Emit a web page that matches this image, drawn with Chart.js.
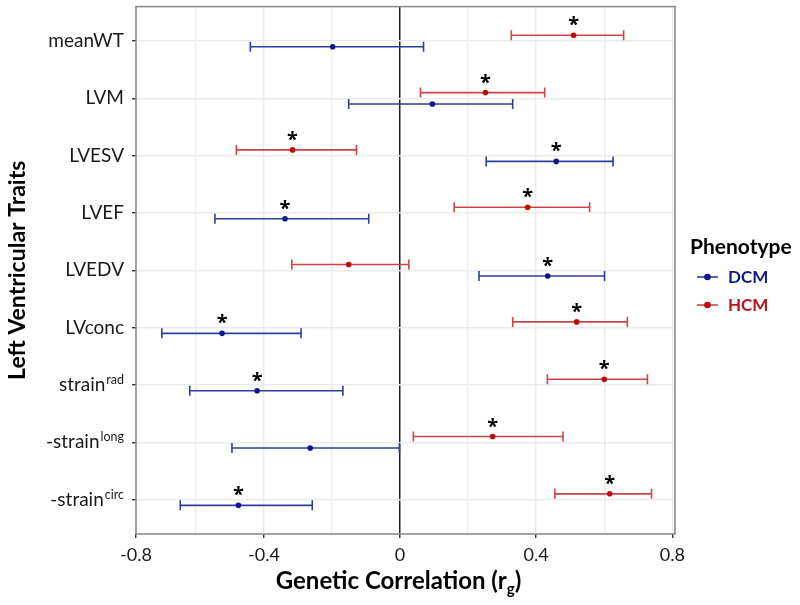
<!DOCTYPE html>
<html>
<head>
<meta charset="utf-8">
<script src="https://cdn.jsdelivr.net/npm/chart.js@4.4.0/dist/chart.umd.min.js"></script>
<style>
  html, body { margin: 0; padding: 0; background: #fff; }
  #wrap { width: 800px; height: 605px; }
</style>
</head>
<body>
<div id="wrap"><canvas id="forestChart"></canvas></div>
<script>
// Data
const traits = ['meanWT', 'LVM', 'LVESV', 'LVEF', 'LVEDV', 'LVconc', 'strain', '-strain', '-strain'];
const traitSup = ['', '', '', '', '', '', 'rad', 'long', 'circ'];

const dcmEst  = [-0.198, 0.095, 0.459, -0.338, 0.434, -0.523, -0.420, -0.264, -0.475];
const dcmLow  = [-0.440, -0.151, 0.253, -0.544, 0.232, -0.700, -0.618, -0.494, -0.646];
const dcmHigh = [0.069, 0.331, 0.626, -0.092, 0.601, -0.291, -0.168, -0.002, -0.258];
const dcmSig  = [false, false, true, true, true, true, true, false, true];

const hcmEst  = [0.510, 0.251, -0.316, 0.375, -0.151, 0.519, 0.600, 0.272, 0.616];
const hcmLow  = [0.327, 0.060, -0.481, 0.159, -0.318, 0.331, 0.433, 0.039, 0.455];
const hcmHigh = [0.657, 0.425, -0.128, 0.557, 0.026, 0.668, 0.727, 0.479, 0.739];
const hcmSig  = [true, true, true, true, false, true, true, true, true];

// the panel in the figure runs a little short of -0.8 on the left, label sits on the edge
const xMin = -0.776, xMax = 0.808;
const xTickValues = [-0.8, -0.6, -0.4, -0.2, 0, 0.2, 0.4, 0.6, 0.8];
const xTickLabels = ['-0.8', '', '-0.4', '', '0', '', '0.4', '', '0.8'];

const FONT = 'Lato, "Open Sans", sans-serif';
const DCM_LINE = '#2f3da0', DCM_PT = '#0c1888', DCM_TXT = '#0f1a8a';
const HCM_LINE = '#cc4448', HCM_PT = '#c00a0a', HCM_TXT = '#b3151c';
const DODGE = 0.1;

function ciPoints(lo, hi, off) {
    const pts = [];
    lo.forEach((l, i) => {
        pts.push({ x: l, y: i + off }, { x: hi[i], y: i + off }, { x: null, y: null });
    });
    return pts;
}
function estPoints(est, off) {
    return est.map((v, i) => ({ x: v, y: i + off }));
}

// extra bits: stars, rich labels, titles, legend, frame
const decor = {
    id: 'decor',
    afterDatasetsDraw(chart) {
        const c = chart.ctx;
        c.save();
        c.fillStyle = '#000';
        c.font = 'bold 20px "Open Sans", sans-serif';
        c.textAlign = 'center';
        c.textBaseline = 'alphabetic';
        [[2, dcmSig], [3, hcmSig]].forEach(([di, sig]) => {
            chart.getDatasetMeta(di).data.forEach((el, i) => {
                if (sig[i]) c.fillText('*', el.x, el.y - 4);
            });
        });
        c.restore();
    },
    afterDraw(chart) {
        const c = chart.ctx;
        const a = chart.chartArea;
        const y = chart.scales.y;
        c.save();

        // panel frame
        c.strokeStyle = '#8c8c8c';
        c.lineWidth = 1.6;
        c.strokeRect(a.left, a.top, a.right - a.left, a.bottom - a.top);

        // y labels with superscripts
        c.fillStyle = '#1a1a1a';
        c.textBaseline = 'middle';
        c.textAlign = 'right';
        traits.forEach((t, i) => {
            const py = y.getPixelForValue(i);
            const right = a.left - 12;
            let supW = 0;
            if (traitSup[i]) {
                c.font = '12.5px ' + FONT;
                supW = c.measureText(traitSup[i]).width + 1;
                c.fillText(traitSup[i], right, py - 5);
            }
            c.font = '19px ' + FONT;
            c.fillText(t, right - supW, py);
        });

        // y title
        c.save();
        c.translate(25, (a.top + a.bottom) / 2);
        c.rotate(-Math.PI / 2);
        c.font = 'bold 23px ' + FONT;
        c.textAlign = 'center';
        c.textBaseline = 'alphabetic';
        c.fillStyle = '#000';
        c.fillText('Left Ventricular Traits', 0, 0);
        c.restore();

        // x title with subscript
        c.fillStyle = '#000';
        c.textBaseline = 'alphabetic';
        c.textAlign = 'left';
        const main = 'Genetic Correlation (r';
        c.font = 'bold 24px ' + FONT;
        const wMain = c.measureText(main).width;
        const wClose = c.measureText(')').width;
        c.font = 'bold 15px ' + FONT;
        const wSub = c.measureText('g').width;
        const cx = (a.left + a.right) / 2 - 7;
        const x0 = cx - (wMain + wSub + wClose) / 2;
        const base = 589;
        c.font = 'bold 24px ' + FONT;
        c.fillText(main, x0, base);
        c.font = 'bold 15px ' + FONT;
        c.fillText('g', x0 + wMain, base + 5);
        c.font = 'bold 24px ' + FONT;
        c.fillText(')', x0 + wMain + wSub, base);

        // legend
        const lx = 690;
        c.font = 'bold 21px ' + FONT;
        c.textBaseline = 'middle';
        c.fillStyle = '#000';
        c.fillText('Phenotype', lx, 247);
        [['DCM', DCM_LINE, DCM_PT, DCM_TXT, 277], ['HCM', HCM_LINE, HCM_PT, HCM_TXT, 305]].forEach(([name, lc, pc, tc, ly]) => {
            c.strokeStyle = lc;
            c.lineWidth = 1.6;
            c.beginPath();
            c.moveTo(lx + 7, ly);
            c.lineTo(lx + 28, ly);
            c.stroke();
            c.fillStyle = pc;
            c.beginPath();
            c.arc(lx + 17.5, ly, 3.3, 0, Math.PI * 2);
            c.fill();
            c.fillStyle = tc;
            c.font = 'bold 17px ' + FONT;
            c.fillText(name, lx + 38, ly + 1);
        });
        c.restore();
    }
};

const ciStyle = (color) => ({
    showLine: true,
    spanGaps: false,
    borderColor: color,
    borderWidth: 1.6,
    pointStyle: 'line',
    pointRotation: 90,
    pointRadius: 5,
    pointBorderWidth: 1.6,
    pointBorderColor: color,
    order: 3
});

const ctx = document.getElementById('forestChart').getContext('2d');
const forestChart = new Chart(ctx, {
    type: 'scatter',
    data: {
        datasets: [
            Object.assign({ label: 'DCM CI', data: ciPoints(dcmLow, dcmHigh, DODGE) }, ciStyle(DCM_LINE)),
            Object.assign({ label: 'HCM CI', data: ciPoints(hcmLow, hcmHigh, -DODGE) }, ciStyle(HCM_LINE)),
            {
                label: 'DCM',
                data: estPoints(dcmEst, DODGE),
                pointRadius: 2.8,
                backgroundColor: DCM_PT,
                borderWidth: 0,
                order: 1
            },
            {
                label: 'HCM',
                data: estPoints(hcmEst, -DODGE),
                pointRadius: 2.8,
                backgroundColor: HCM_PT,
                borderWidth: 0,
                order: 1
            }
        ]
    },
    options: {
        responsive: true,
        maintainAspectRatio: false,
        animation: false,
        layout: { padding: { left: 0, right: 125, top: 5, bottom: 0 } },
        plugins: {
            legend: { display: false },
            tooltip: { enabled: false }
        },
        scales: {
            x: {
                type: 'linear',
                min: xMin,
                max: xMax,
                afterBuildTicks: s => {
                    s.ticks = xTickValues.map(v => ({ value: Math.max(v, xMin) }));
                },
                afterFit: s => { s.height = 71; },
                border: { display: false },
                grid: {
                    color: c => (c.tick && c.tick.value === 0) ? '#222' : '#ebebeb',
                    lineWidth: c => (c.tick && c.tick.value === 0) ? 1.5 : 1.4,
                    tickColor: c => xTickLabels[c.index] ? '#333' : 'rgba(0,0,0,0)',
                    tickLength: 4
                },
                ticks: {
                    autoSkip: false,
                    maxRotation: 0,
                    padding: 6,
                    color: '#1a1a1a',
                    font: { family: FONT, size: 18 },
                    callback: (v, i) => xTickLabels[i]
                }
            },
            y: {
                type: 'linear',
                reverse: true,
                min: -0.6,
                max: 8.6,
                afterBuildTicks: s => { s.ticks = traits.map((t, i) => ({ value: i })); },
                afterFit: s => { s.width = 136; },
                border: { display: false },
                grid: {
                    color: '#ebebeb',
                    lineWidth: 1.4,
                    tickColor: '#333',
                    tickLength: 4
                },
                ticks: { display: false }
            }
        }
    },
    plugins: [decor]
});
</script>
</body>
</html>
